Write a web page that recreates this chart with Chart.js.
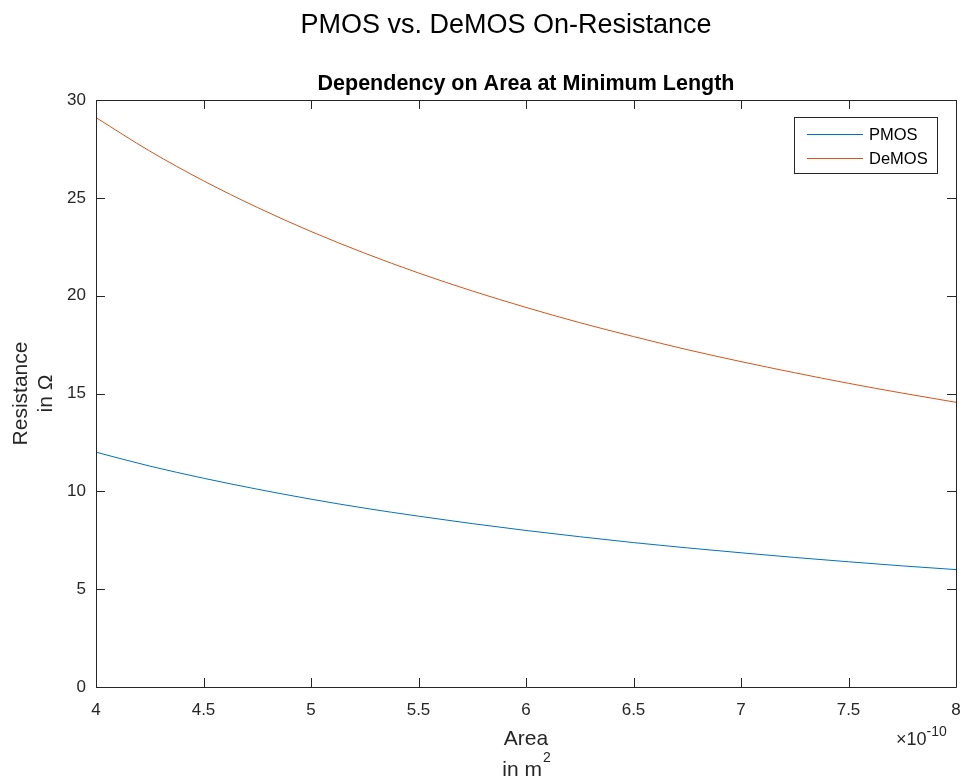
<!DOCTYPE html>
<html>
<head>
<meta charset="utf-8">
<script src="https://cdn.jsdelivr.net/npm/chart.js@4"></script>
<style>
html,body{margin:0;padding:0;background:#fff;}
#wrap{width:963px;height:784px;position:relative;}
</style>
</head>
<body>
<div id="wrap"><canvas id="c" width="963" height="784"></canvas></div>
<script>
// Data (x in units of 1e-10 m^2)
const areaValues = [4.0, 4.25, 4.5, 4.75, 5.0, 5.25, 5.5, 5.75, 6.0, 6.25, 6.5, 6.75, 7.0, 7.25, 7.5, 7.75, 8.0];
const pmosValues = [12.0, 11.29, 10.67, 10.11, 9.6, 9.14, 8.73, 8.35, 8.0, 7.68, 7.38, 7.11, 6.86, 6.62, 6.4, 6.19, 6.0];
const demosValues = [29.1, 27.39, 25.87, 24.51, 23.28, 22.17, 21.16, 20.24, 19.4, 18.62, 17.91, 17.24, 16.63, 16.06, 15.52, 15.02, 14.55];
const seriesNames = ['PMOS', 'DeMOS'];
const xTicks = [4, 4.5, 5, 5.5, 6, 6.5, 7, 7.5, 8];
const yTicks = [0, 5, 10, 15, 20, 25, 30];
const mainTitle = 'PMOS vs. DeMOS On-Resistance';
const subTitle = 'Dependency on Area at Minimum Length';
const yTitle = ['Resistance', 'in Ω'];
const xTitle = ['Area', 'in m'];

const AX = '#262626';
const FONT = 'Arial, "Liberation Sans", Helvetica, sans-serif';

const toPts = (ys) => areaValues.map((x, i) => ({x: x, y: ys[i]}));

const decor = {
  id: 'decor',
  afterDraw(chart) {
    const ctx = chart.ctx;
    const a = chart.chartArea;
    const xs = chart.scales.x, ys = chart.scales.y;
    ctx.save();
    // box
    ctx.strokeStyle = AX;
    ctx.lineWidth = 1;
    ctx.beginPath();
    ctx.rect(Math.round(a.left) + 0.5, Math.round(a.top) + 0.5, Math.round(a.right - a.left), Math.round(a.bottom - a.top));
    ctx.stroke();
    // ticks (inward, mirrored)
    const tl = 9;
    ctx.beginPath();
    xTicks.forEach(v => {
      const px = Math.round(xs.getPixelForValue(v)) + 0.5;
      ctx.moveTo(px, a.bottom); ctx.lineTo(px, a.bottom - tl);
      ctx.moveTo(px, a.top); ctx.lineTo(px, a.top + tl);
    });
    yTicks.forEach(v => {
      const py = Math.round(ys.getPixelForValue(v)) + 0.5;
      ctx.moveTo(a.left, py); ctx.lineTo(a.left + tl, py);
      ctx.moveTo(a.right, py); ctx.lineTo(a.right - tl, py);
    });
    ctx.stroke();

    ctx.fillStyle = '#000';
    ctx.textAlign = 'center';
    ctx.textBaseline = 'middle';
    // main title
    ctx.font = '27px ' + FONT;
    ctx.fillText(mainTitle, 506, 26);
    // subtitle
    ctx.font = 'bold 21.5px ' + FONT;
    ctx.fillText(subTitle, (a.left + a.right) / 2, 84);

    // x title
    ctx.fillStyle = AX;
    ctx.font = '21px ' + FONT;
    const cx = (a.left + a.right) / 2;
    ctx.fillText(xTitle[0], cx, 739);
    const w1 = ctx.measureText(xTitle[1]).width;
    ctx.font = '14px ' + FONT;
    const w2 = ctx.measureText('2').width;
    const sx = cx - (w1 + w2) / 2;
    ctx.textAlign = 'left';
    ctx.font = '21px ' + FONT;
    ctx.fillText(xTitle[1], sx, 770);
    ctx.font = '14px ' + FONT;
    ctx.fillText('2', sx + w1 + 1, 758);

    // exponent label
    ctx.font = '18px ' + FONT;
    ctx.textAlign = 'left';
    ctx.fillText('×10', 896, 740);
    const we = ctx.measureText('×10').width;
    ctx.font = '14px ' + FONT;
    ctx.fillText('-10', 896 + we, 732);

    // y title (rotated)
    ctx.save();
    ctx.translate(21, (a.top + a.bottom) / 2);
    ctx.rotate(-Math.PI / 2);
    ctx.textAlign = 'center';
    ctx.font = '21px ' + FONT;
    ctx.fillText(yTitle[0], 0, 0);
    ctx.fillText(yTitle[1], 0, 25);
    ctx.restore();

    // legend
    const lx = 794.5, ly = 117.5, lw = 143, lh = 56;
    ctx.fillStyle = '#fff';
    ctx.fillRect(lx, ly, lw, lh);
    ctx.strokeStyle = AX;
    ctx.strokeRect(lx, ly, lw, lh);
    chart.data.datasets.forEach((ds, i) => {
      const yy = 134 + i * 24;
      ctx.strokeStyle = ds.borderColor;
      ctx.lineWidth = 1;
      ctx.beginPath();
      ctx.moveTo(807, yy + 0.5);
      ctx.lineTo(863, yy + 0.5);
      ctx.stroke();
      ctx.fillStyle = '#000';
      ctx.font = '16.5px ' + FONT;
      ctx.textAlign = 'left';
      ctx.textBaseline = 'middle';
      ctx.fillText(ds.label, 869, yy + 1);
    });
    ctx.restore();
  }
};

new Chart(document.getElementById('c'), {
  type: 'line',
  data: {
    datasets: [
      {label: seriesNames[0], data: toPts(pmosValues), borderColor: '#0072BD', borderWidth: 1, pointRadius: 0, cubicInterpolationMode: 'monotone', fill: false},
      {label: seriesNames[1], data: toPts(demosValues), borderColor: '#D95319', borderWidth: 1, pointRadius: 0, cubicInterpolationMode: 'monotone', fill: false}
    ]
  },
  options: {
    responsive: false,
    animation: false,
    devicePixelRatio: 1,
    layout: {padding: {top: 100, right: 7, left: 0, bottom: 0}},
    plugins: {legend: {display: false}, title: {display: false}, tooltip: {enabled: false}},
    scales: {
      x: {
        type: 'linear', min: 4, max: 8,
        border: {display: false},
        grid: {display: false},
        afterBuildTicks: (s) => { s.ticks = xTicks.map(v => ({value: v})); },
        afterFit: (s) => { s.height = 97; s.paddingRight = 0; s.paddingLeft = 0; },
        ticks: {color: AX, font: {family: FONT, size: 17}, padding: 5, maxRotation: 0, autoSkip: false,
          callback: (v) => String(v)}
      },
      y: {
        type: 'linear', min: 0, max: 30,
        border: {display: false},
        grid: {display: false},
        afterBuildTicks: (s) => { s.ticks = yTicks.map(v => ({value: v})); },
        afterFit: (s) => { s.width = 96; s.paddingTop = 0; s.paddingBottom = 0; },
        ticks: {color: AX, font: {family: FONT, size: 17}, padding: 2, autoSkip: false,
          callback: (v) => String(v)}
      }
    }
  },
  plugins: [decor]
});
</script>
</body>
</html>
